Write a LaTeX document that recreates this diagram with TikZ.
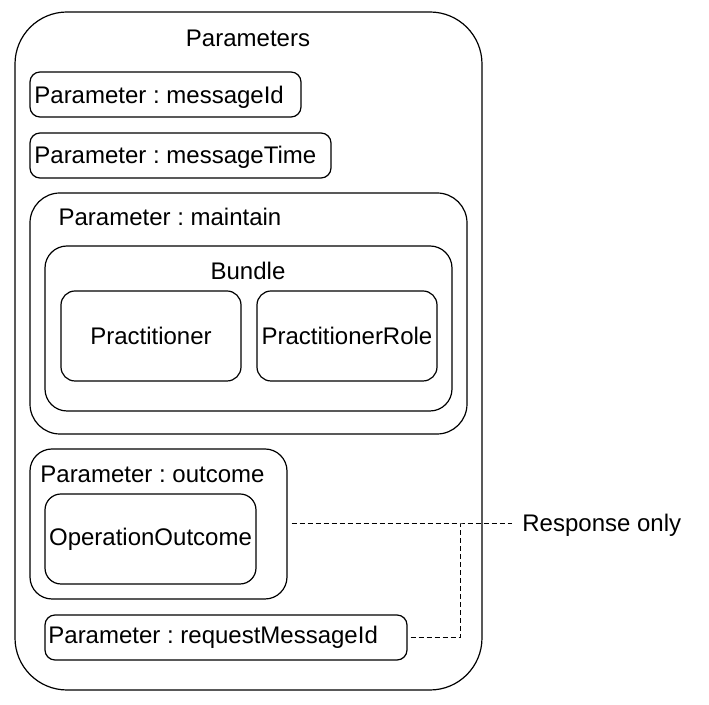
\documentclass[tikz,border=0pt]{standalone}
\usepackage{fontspec}
\setmainfont{Liberation Sans}
\usetikzlibrary{fit}
\frenchspacing

\tikzset{
	box/.style={draw=black, line width=0.6pt, rounded corners=#1, inner sep=0pt},
	box/.default=5pt,
	txt/.style={inner sep=0pt, font=\fontsize{12}{14}\selectfont},
	note/.style={draw=black, line width=0.5pt, dash pattern=on 2.5pt off 1.5pt}
}

\begin{document}
\begin{tikzpicture}[x=0.5pt, y=-0.5pt]
	\useasboundingbox (0,0) rectangle (709,705);
	
	\node[box=26pt, fit={(15,12) (482,690)}] (params) {};
	\node[txt] (paramstitle) at (248,38) {Parameters};
	
	\node[box, fit={(30,72) (301,117)}] (msgid) {};
	\node[txt, anchor=west] (msgidtxt) at (34,97) {Parameter : messageId};
	
	\node[box, fit={(30,133) (331,178)}] (msgtime) {};
	\node[txt, anchor=west] (msgtimetxt) at (34,157) {Parameter : messageTime};
	
	\node[box=15pt, fit={(30,193) (467,434)}] (maintain) {};
	\node[txt] (maintaintxt) at (170,217) {Parameter : maintain};
	\node[box=11pt, fit={(45,246) (452,411)}] (bundle) {};
	\node[txt] (bundletxt) at (248,271) {Bundle};
	\node[box=7pt, fit={(61,291) (241,381)}] (pract) {};
	\node[txt] (practtxt) at (pract.center) {Practitioner};
	\node[box=7pt, fit={(257,291) (437,381)}] (practrole) {};
	\node[txt] (practroletxt) at (practrole.center) {PractitionerRole};
	
	\node[box=11pt, fit={(30,449) (287,599)}] (outcome) {};
	\node[txt, anchor=west] (outcometxt) at (40,474) {Parameter : outcome};
	\node[box=8pt, fit={(45,494) (256,584)}] (opoutcome) {};
	\node[txt] (opoutcometxt) at (opoutcome.center) {OperationOutcome};
	
	\node[box, fit={(45,615) (407,660)}] (reqid) {};
	\node[txt, anchor=west] (reqidtxt) at (48,637) {Parameter : requestMessageId};
	
	\node[txt, anchor=west] (resp) at (522,525) {Response only};
	\coordinate (joint) at (460,524);
	
	\draw[note] ([xshift=2pt]outcome.east) -- (joint) -- ([xshift=-5pt]resp.west |- joint);
	\draw[note] ([xshift=1.5pt]reqid.east) -| (joint);
\end{tikzpicture}
\end{document}
